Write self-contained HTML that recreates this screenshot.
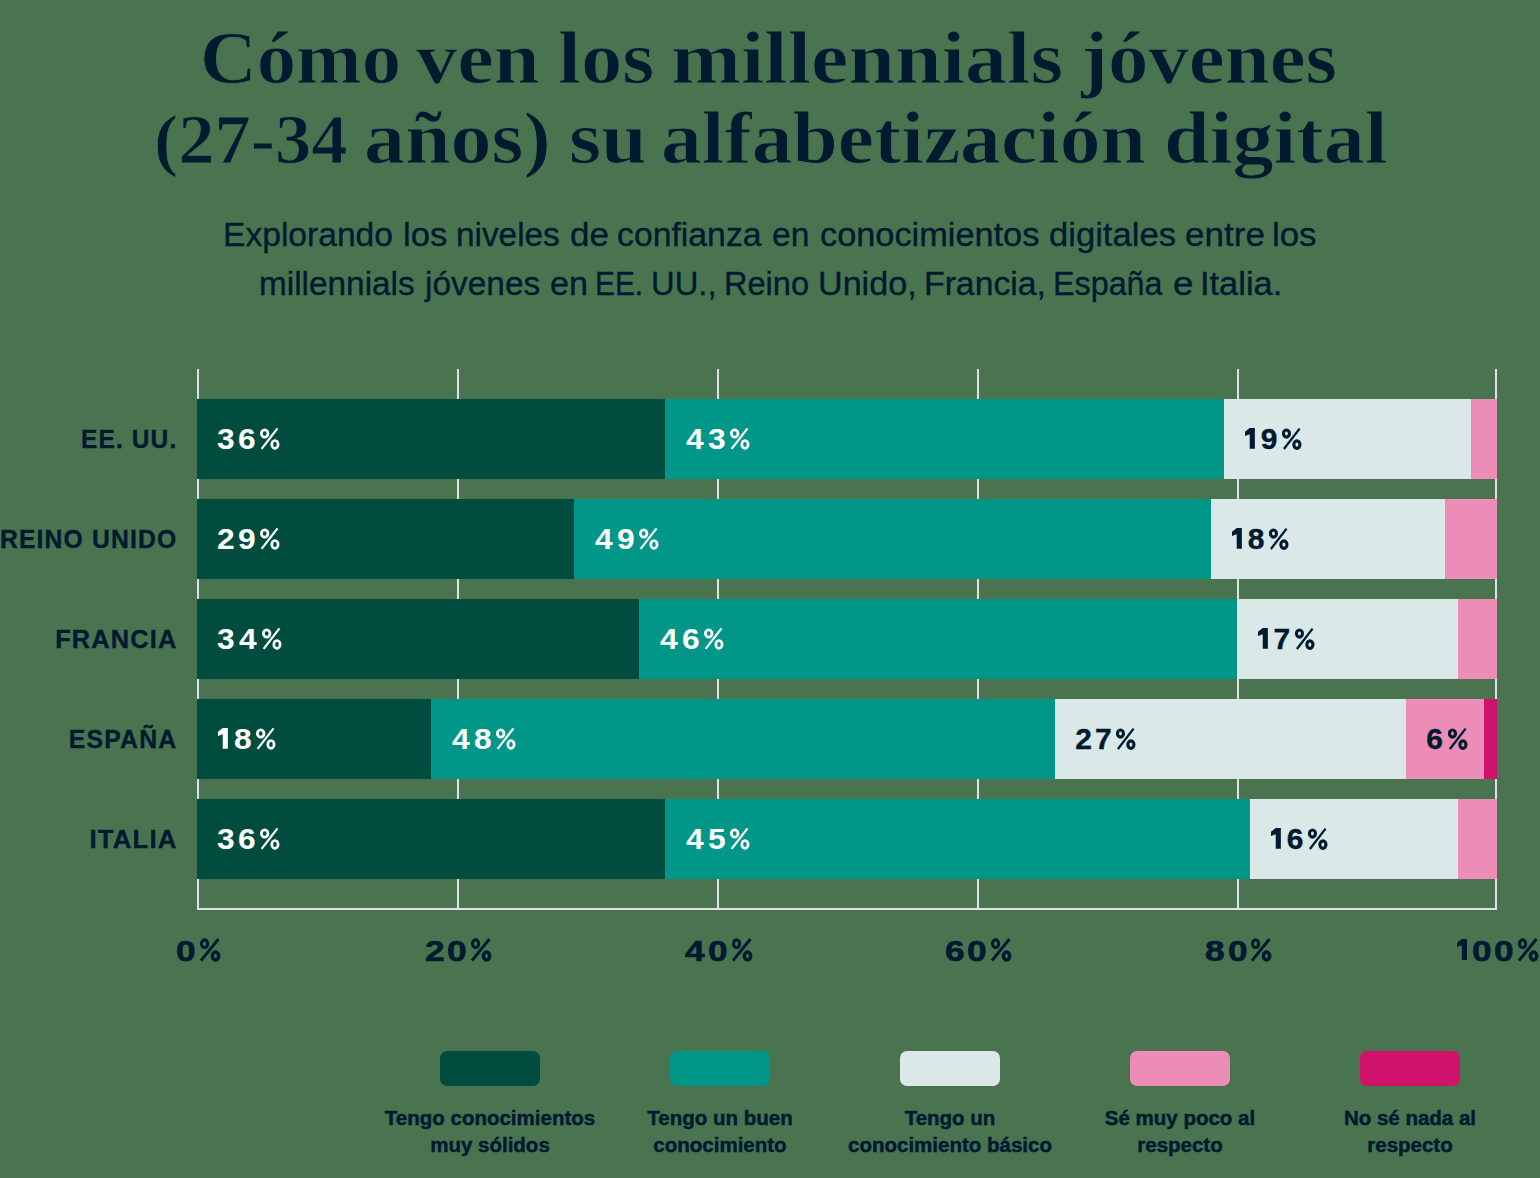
<!DOCTYPE html><html><head><meta charset="utf-8"><style>
html,body{margin:0;padding:0;}
body{width:1540px;height:1178px;background:#4a7350;position:relative;overflow:hidden;font-family:"Liberation Sans",sans-serif;color:#001a2f;}
.a{position:absolute;white-space:nowrap;}
.t{font-family:"Liberation Serif",serif;font-weight:bold;font-size:75px;line-height:80px;left:0;width:1540px;text-align:center;}
.tw{font-family:"Liberation Serif",serif;font-weight:bold;font-size:75px;line-height:80px;transform-origin:0 0;-webkit-text-stroke:1.0px #4a7350;}
.s{font-size:34px;line-height:40px;left:0;width:1540px;text-align:center;}
.sw2{font-size:34px;line-height:40px;transform-origin:0 0;-webkit-text-stroke:0.35px #001a2f;}
.lab{font-weight:bold;font-size:25px;line-height:30px;right:1362.5px;text-align:right;transform-origin:100% 0;letter-spacing:1.15px;-webkit-text-stroke:0.35px #001a2f;}
.seg{position:absolute;height:80px;}
.dg{position:absolute;font-weight:bold;transform-origin:0 0;white-space:nowrap;}
.g{position:absolute;overflow:visible;}
.gl{position:absolute;background:#dde0e5;width:2px;}
.ax{position:absolute;font-weight:bold;font-size:31.5px;line-height:34px;letter-spacing:1.5px;width:200px;text-align:center;}
.sw{position:absolute;width:100px;height:35px;border-radius:7px;top:1051px;}
.lg{position:absolute;font-weight:bold;-webkit-text-stroke:0.45px #001a2f;font-size:20.5px;line-height:26.5px;width:300px;text-align:center;top:1105px;}
</style></head><body>

<div class="a tw" style="top:18px;left:199.8px;transform:scaleX(1.0486);">Cómo</div>
<div class="a tw" style="top:18px;left:416.0px;transform:scaleX(1.0991);">ven</div>
<div class="a tw" style="top:18px;left:557.9px;transform:scaleX(1.1000);">los</div>
<div class="a tw" style="top:18px;left:670.8px;transform:scaleX(1.1202);">millennials</div>
<div class="a tw" style="top:18px;left:1081.1px;transform:scaleX(1.0781);">jóvenes</div>
<div class="a tw" style="top:99.5px;left:153.8px;transform:scaleX(1.0522);font-size:69px;">(27-34</div>
<div class="a tw" style="top:97.5px;left:363.8px;transform:scaleX(1.0934);">años)</div>
<div class="a tw" style="top:97.5px;left:568.8px;transform:scaleX(1.1000);">su</div>
<div class="a tw" style="top:97.5px;left:661.3px;transform:scaleX(1.0880);">alfabetización</div>
<div class="a tw" style="top:97.5px;left:1163.7px;transform:scaleX(1.0950);">digital</div>
<div class="a sw2" style="top:214px;left:223.0px;transform:scaleX(0.9881)">Explorando</div>
<div class="a sw2" style="top:214px;left:403.0px;transform:scaleX(1.0175)">los</div>
<div class="a sw2" style="top:214px;left:456.0px;transform:scaleX(0.9806)">niveles</div>
<div class="a sw2" style="top:214px;left:570.0px;transform:scaleX(1.0286)">de</div>
<div class="a sw2" style="top:214px;left:617.0px;transform:scaleX(0.9931)">confianza</div>
<div class="a sw2" style="top:214px;left:772.4px;transform:scaleX(0.9886)">en</div>
<div class="a sw2" style="top:214px;left:820.0px;transform:scaleX(1.0093)">conocimientos</div>
<div class="a sw2" style="top:214px;left:1048.5px;transform:scaleX(1.0179)">digitales</div>
<div class="a sw2" style="top:214px;left:1184.5px;transform:scaleX(1.0307)">entre</div>
<div class="a sw2" style="top:214px;left:1272.4px;transform:scaleX(1.0225)">los</div>
<div class="a sw2" style="top:263px;left:259.0px;transform:scaleX(0.9808)">millennials</div>
<div class="a sw2" style="top:263px;left:425.0px;transform:scaleX(0.9829)">jóvenes</div>
<div class="a sw2" style="top:263px;left:549.5px;transform:scaleX(1.0029)">en</div>
<div class="a sw2" style="top:263px;left:595.0px;transform:scaleX(0.8776)">EE.</div>
<div class="a sw2" style="top:263px;left:650.8px;transform:scaleX(0.9629)">UU.,</div>
<div class="a sw2" style="top:263px;left:724.1px;transform:scaleX(0.9576)">Reino</div>
<div class="a sw2" style="top:263px;left:817.7px;transform:scaleX(1.0033)">Unido,</div>
<div class="a sw2" style="top:263px;left:924.0px;transform:scaleX(0.9932)">Francia,</div>
<div class="a sw2" style="top:263px;left:1052.8px;transform:scaleX(0.9500)">España</div>
<div class="a sw2" style="top:263px;left:1172.9px;transform:scaleX(1.0812)">e</div>
<div class="a sw2" style="top:263px;left:1200.0px;transform:scaleX(1.0120)">Italia.</div>
<div class="gl" style="left:197px;top:369px;height:541px"></div>
<div class="gl" style="left:457px;top:369px;height:541px"></div>
<div class="gl" style="left:717px;top:369px;height:541px"></div>
<div class="gl" style="left:977px;top:369px;height:541px"></div>
<div class="gl" style="left:1237px;top:369px;height:541px"></div>
<div class="gl" style="left:1495px;top:369px;height:541px"></div>
<div class="gl" style="left:197px;top:908px;width:1300px;height:2px"></div>
<div class="a lab" style="top:424px;transform:scaleX(0.979)">EE. UU.</div>
<div class="seg" style="left:197px;top:399px;width:468px;background:#004d40"></div>
<div class="dg" style="left:217.41px;top:420.65px;font-size:30.0px;line-height:36.00px;transform:scaleX(1.06);color:#fff;">3</div>
<div class="dg" style="left:238.33px;top:420.65px;font-size:30.0px;line-height:36.00px;transform:scaleX(1.06);color:#fff;">6</div>
<svg class="g" style="left:260.36px;top:427.80px" width="20.00" height="23.00" viewBox="0 0 20 23"><ellipse cx="4.7" cy="5.5" rx="3.3" ry="3.65" fill="none" stroke="#fff" stroke-width="2.7"/><ellipse cx="14.95" cy="16.4" rx="3.15" ry="3.9" fill="none" stroke="#fff" stroke-width="2.7"/><line x1="17.5" y1="0.3" x2="1.6" y2="20.8" stroke="#fff" stroke-width="2.2"/></svg>
<div class="seg" style="left:665px;top:399px;width:559px;background:#009688"></div>
<div class="dg" style="left:685.72px;top:420.65px;font-size:30.0px;line-height:36.00px;transform:scaleX(1.06);color:#fff;">4</div>
<div class="dg" style="left:707.92px;top:420.65px;font-size:30.0px;line-height:36.00px;transform:scaleX(1.06);color:#fff;">3</div>
<svg class="g" style="left:729.95px;top:427.80px" width="20.00" height="23.00" viewBox="0 0 20 23"><ellipse cx="4.7" cy="5.5" rx="3.3" ry="3.65" fill="none" stroke="#fff" stroke-width="2.7"/><ellipse cx="14.95" cy="16.4" rx="3.15" ry="3.9" fill="none" stroke="#fff" stroke-width="2.7"/><line x1="17.5" y1="0.3" x2="1.6" y2="20.8" stroke="#fff" stroke-width="2.2"/></svg>
<div class="seg" style="left:1224px;top:399px;width:247px;background:#dae8e8"></div>
<svg class="g" style="left:1245.20px;top:428.30px" width="9.86" height="20.70" viewBox="0 0 10 21"><path d="M4.8 0H10V21H4.8V6.3L0 8.1V3.8Z" fill="#001a2f"/></svg>
<div class="dg" style="left:1260.71px;top:420.65px;font-size:30.0px;line-height:36.00px;transform:scaleX(1.0);color:#001a2f;-webkit-text-stroke:0.35px #001a2f;">9</div>
<svg class="g" style="left:1282.11px;top:427.70px" width="20.00" height="23.00" viewBox="0 0 20 23"><ellipse cx="4.45" cy="5.6" rx="3.0" ry="3.55" fill="none" stroke="#001a2f" stroke-width="3.1"/><ellipse cx="14.9" cy="16.6" rx="3.05" ry="3.75" fill="none" stroke="#001a2f" stroke-width="3.1"/><line x1="17.6" y1="0.6" x2="1.9" y2="21.0" stroke="#001a2f" stroke-width="2.3"/></svg>
<div class="seg" style="left:1471px;top:399px;width:26px;background:#ec8db8"></div>
<div class="a lab" style="top:524px;transform:scaleX(0.989)">REINO UNIDO</div>
<div class="seg" style="left:197px;top:499px;width:377px;background:#004d40"></div>
<div class="dg" style="left:217.09px;top:520.65px;font-size:30.0px;line-height:36.00px;transform:scaleX(1.06);color:#fff;">2</div>
<div class="dg" style="left:237.85px;top:520.65px;font-size:30.0px;line-height:36.00px;transform:scaleX(1.06);color:#fff;">9</div>
<svg class="g" style="left:259.89px;top:527.80px" width="20.00" height="23.00" viewBox="0 0 20 23"><ellipse cx="4.7" cy="5.5" rx="3.3" ry="3.65" fill="none" stroke="#fff" stroke-width="2.7"/><ellipse cx="14.95" cy="16.4" rx="3.15" ry="3.9" fill="none" stroke="#fff" stroke-width="2.7"/><line x1="17.5" y1="0.3" x2="1.6" y2="20.8" stroke="#fff" stroke-width="2.2"/></svg>
<div class="seg" style="left:574px;top:499px;width:637px;background:#009688"></div>
<div class="dg" style="left:594.72px;top:520.65px;font-size:30.0px;line-height:36.00px;transform:scaleX(1.06);color:#fff;">4</div>
<div class="dg" style="left:616.60px;top:520.65px;font-size:30.0px;line-height:36.00px;transform:scaleX(1.06);color:#fff;">9</div>
<svg class="g" style="left:638.64px;top:527.80px" width="20.00" height="23.00" viewBox="0 0 20 23"><ellipse cx="4.7" cy="5.5" rx="3.3" ry="3.65" fill="none" stroke="#fff" stroke-width="2.7"/><ellipse cx="14.95" cy="16.4" rx="3.15" ry="3.9" fill="none" stroke="#fff" stroke-width="2.7"/><line x1="17.5" y1="0.3" x2="1.6" y2="20.8" stroke="#fff" stroke-width="2.2"/></svg>
<div class="seg" style="left:1211px;top:499px;width:234px;background:#dae8e8"></div>
<svg class="g" style="left:1232.20px;top:528.30px" width="9.86" height="20.70" viewBox="0 0 10 21"><path d="M4.8 0H10V21H4.8V6.3L0 8.1V3.8Z" fill="#001a2f"/></svg>
<div class="dg" style="left:1247.86px;top:520.65px;font-size:30.0px;line-height:36.00px;transform:scaleX(1.0);color:#001a2f;-webkit-text-stroke:0.35px #001a2f;">8</div>
<svg class="g" style="left:1269.41px;top:527.70px" width="20.00" height="23.00" viewBox="0 0 20 23"><ellipse cx="4.45" cy="5.6" rx="3.0" ry="3.55" fill="none" stroke="#001a2f" stroke-width="3.1"/><ellipse cx="14.9" cy="16.6" rx="3.05" ry="3.75" fill="none" stroke="#001a2f" stroke-width="3.1"/><line x1="17.6" y1="0.6" x2="1.9" y2="21.0" stroke="#001a2f" stroke-width="2.3"/></svg>
<div class="seg" style="left:1445px;top:499px;width:52px;background:#ec8db8"></div>
<div class="a lab" style="top:624px;transform:scaleX(1.015)">FRANCIA</div>
<div class="seg" style="left:197px;top:599px;width:442px;background:#004d40"></div>
<div class="dg" style="left:217.41px;top:620.65px;font-size:30.0px;line-height:36.00px;transform:scaleX(1.06);color:#fff;">3</div>
<div class="dg" style="left:238.96px;top:620.65px;font-size:30.0px;line-height:36.00px;transform:scaleX(1.06);color:#fff;">4</div>
<svg class="g" style="left:261.95px;top:627.80px" width="20.00" height="23.00" viewBox="0 0 20 23"><ellipse cx="4.7" cy="5.5" rx="3.3" ry="3.65" fill="none" stroke="#fff" stroke-width="2.7"/><ellipse cx="14.95" cy="16.4" rx="3.15" ry="3.9" fill="none" stroke="#fff" stroke-width="2.7"/><line x1="17.5" y1="0.3" x2="1.6" y2="20.8" stroke="#fff" stroke-width="2.2"/></svg>
<div class="seg" style="left:639px;top:599px;width:598px;background:#009688"></div>
<div class="dg" style="left:659.72px;top:620.65px;font-size:30.0px;line-height:36.00px;transform:scaleX(1.06);color:#fff;">4</div>
<div class="dg" style="left:681.60px;top:620.65px;font-size:30.0px;line-height:36.00px;transform:scaleX(1.06);color:#fff;">6</div>
<svg class="g" style="left:703.64px;top:627.80px" width="20.00" height="23.00" viewBox="0 0 20 23"><ellipse cx="4.7" cy="5.5" rx="3.3" ry="3.65" fill="none" stroke="#fff" stroke-width="2.7"/><ellipse cx="14.95" cy="16.4" rx="3.15" ry="3.9" fill="none" stroke="#fff" stroke-width="2.7"/><line x1="17.5" y1="0.3" x2="1.6" y2="20.8" stroke="#fff" stroke-width="2.2"/></svg>
<div class="seg" style="left:1237px;top:599px;width:221px;background:#dae8e8"></div>
<svg class="g" style="left:1258.20px;top:628.30px" width="9.86" height="20.70" viewBox="0 0 10 21"><path d="M4.8 0H10V21H4.8V6.3L0 8.1V3.8Z" fill="#001a2f"/></svg>
<div class="dg" style="left:1273.41px;top:620.65px;font-size:30.0px;line-height:36.00px;transform:scaleX(1.0);color:#001a2f;-webkit-text-stroke:0.35px #001a2f;">7</div>
<svg class="g" style="left:1294.51px;top:627.70px" width="20.00" height="23.00" viewBox="0 0 20 23"><ellipse cx="4.45" cy="5.6" rx="3.0" ry="3.55" fill="none" stroke="#001a2f" stroke-width="3.1"/><ellipse cx="14.9" cy="16.6" rx="3.05" ry="3.75" fill="none" stroke="#001a2f" stroke-width="3.1"/><line x1="17.6" y1="0.6" x2="1.9" y2="21.0" stroke="#001a2f" stroke-width="2.3"/></svg>
<div class="seg" style="left:1458px;top:599px;width:39px;background:#ec8db8"></div>
<div class="a lab" style="top:724px;transform:scaleX(0.992)">ESPAÑA</div>
<div class="seg" style="left:197px;top:699px;width:234px;background:#004d40"></div>
<svg class="g" style="left:218.20px;top:728.30px" width="9.86" height="20.70" viewBox="0 0 10 21"><path d="M4.8 0H10V21H4.8V6.3L0 8.1V3.8Z" fill="#fff"/></svg>
<div class="dg" style="left:233.50px;top:720.65px;font-size:30.0px;line-height:36.00px;transform:scaleX(1.06);color:#fff;">8</div>
<svg class="g" style="left:255.70px;top:727.80px" width="20.00" height="23.00" viewBox="0 0 20 23"><ellipse cx="4.7" cy="5.5" rx="3.3" ry="3.65" fill="none" stroke="#fff" stroke-width="2.7"/><ellipse cx="14.95" cy="16.4" rx="3.15" ry="3.9" fill="none" stroke="#fff" stroke-width="2.7"/><line x1="17.5" y1="0.3" x2="1.6" y2="20.8" stroke="#fff" stroke-width="2.2"/></svg>
<div class="seg" style="left:431px;top:699px;width:624px;background:#009688"></div>
<div class="dg" style="left:451.72px;top:720.65px;font-size:30.0px;line-height:36.00px;transform:scaleX(1.06);color:#fff;">4</div>
<div class="dg" style="left:473.76px;top:720.65px;font-size:30.0px;line-height:36.00px;transform:scaleX(1.06);color:#fff;">8</div>
<svg class="g" style="left:495.95px;top:727.80px" width="20.00" height="23.00" viewBox="0 0 20 23"><ellipse cx="4.7" cy="5.5" rx="3.3" ry="3.65" fill="none" stroke="#fff" stroke-width="2.7"/><ellipse cx="14.95" cy="16.4" rx="3.15" ry="3.9" fill="none" stroke="#fff" stroke-width="2.7"/><line x1="17.5" y1="0.3" x2="1.6" y2="20.8" stroke="#fff" stroke-width="2.2"/></svg>
<div class="seg" style="left:1055px;top:699px;width:351px;background:#dae8e8"></div>
<div class="dg" style="left:1075.15px;top:720.65px;font-size:30.0px;line-height:36.00px;transform:scaleX(1.0);color:#001a2f;-webkit-text-stroke:0.35px #001a2f;">2</div>
<div class="dg" style="left:1095.05px;top:720.65px;font-size:30.0px;line-height:36.00px;transform:scaleX(1.0);color:#001a2f;-webkit-text-stroke:0.35px #001a2f;">7</div>
<svg class="g" style="left:1116.15px;top:727.70px" width="20.00" height="23.00" viewBox="0 0 20 23"><ellipse cx="4.45" cy="5.6" rx="3.0" ry="3.55" fill="none" stroke="#001a2f" stroke-width="3.1"/><ellipse cx="14.9" cy="16.6" rx="3.05" ry="3.75" fill="none" stroke="#001a2f" stroke-width="3.1"/><line x1="17.6" y1="0.6" x2="1.9" y2="21.0" stroke="#001a2f" stroke-width="2.3"/></svg>
<div class="seg" style="left:1406px;top:699px;width:78px;background:#ec8db8"></div>
<div class="dg" style="left:1426.15px;top:720.65px;font-size:30.0px;line-height:36.00px;transform:scaleX(1.0);color:#001a2f;-webkit-text-stroke:0.35px #001a2f;">6</div>
<svg class="g" style="left:1447.55px;top:727.70px" width="20.00" height="23.00" viewBox="0 0 20 23"><ellipse cx="4.45" cy="5.6" rx="3.0" ry="3.55" fill="none" stroke="#001a2f" stroke-width="3.1"/><ellipse cx="14.9" cy="16.6" rx="3.05" ry="3.75" fill="none" stroke="#001a2f" stroke-width="3.1"/><line x1="17.6" y1="0.6" x2="1.9" y2="21.0" stroke="#001a2f" stroke-width="2.3"/></svg>
<div class="seg" style="left:1484px;top:699px;width:13px;background:#d0136a"></div>
<div class="a lab" style="top:824px;transform:scaleX(1.03)">ITALIA</div>
<div class="seg" style="left:197px;top:799px;width:468px;background:#004d40"></div>
<div class="dg" style="left:217.41px;top:820.65px;font-size:30.0px;line-height:36.00px;transform:scaleX(1.06);color:#fff;">3</div>
<div class="dg" style="left:238.33px;top:820.65px;font-size:30.0px;line-height:36.00px;transform:scaleX(1.06);color:#fff;">6</div>
<svg class="g" style="left:260.36px;top:827.80px" width="20.00" height="23.00" viewBox="0 0 20 23"><ellipse cx="4.7" cy="5.5" rx="3.3" ry="3.65" fill="none" stroke="#fff" stroke-width="2.7"/><ellipse cx="14.95" cy="16.4" rx="3.15" ry="3.9" fill="none" stroke="#fff" stroke-width="2.7"/><line x1="17.5" y1="0.3" x2="1.6" y2="20.8" stroke="#fff" stroke-width="2.2"/></svg>
<div class="seg" style="left:665px;top:799px;width:585px;background:#009688"></div>
<div class="dg" style="left:685.72px;top:820.65px;font-size:30.0px;line-height:36.00px;transform:scaleX(1.06);color:#fff;">4</div>
<div class="dg" style="left:707.76px;top:820.65px;font-size:30.0px;line-height:36.00px;transform:scaleX(1.06);color:#fff;">5</div>
<svg class="g" style="left:730.11px;top:827.80px" width="20.00" height="23.00" viewBox="0 0 20 23"><ellipse cx="4.7" cy="5.5" rx="3.3" ry="3.65" fill="none" stroke="#fff" stroke-width="2.7"/><ellipse cx="14.95" cy="16.4" rx="3.15" ry="3.9" fill="none" stroke="#fff" stroke-width="2.7"/><line x1="17.5" y1="0.3" x2="1.6" y2="20.8" stroke="#fff" stroke-width="2.2"/></svg>
<div class="seg" style="left:1250px;top:799px;width:208px;background:#dae8e8"></div>
<svg class="g" style="left:1271.20px;top:828.30px" width="9.86" height="20.70" viewBox="0 0 10 21"><path d="M4.8 0H10V21H4.8V6.3L0 8.1V3.8Z" fill="#001a2f"/></svg>
<div class="dg" style="left:1286.71px;top:820.65px;font-size:30.0px;line-height:36.00px;transform:scaleX(1.0);color:#001a2f;-webkit-text-stroke:0.35px #001a2f;">6</div>
<svg class="g" style="left:1308.11px;top:827.70px" width="20.00" height="23.00" viewBox="0 0 20 23"><ellipse cx="4.45" cy="5.6" rx="3.0" ry="3.55" fill="none" stroke="#001a2f" stroke-width="3.1"/><ellipse cx="14.9" cy="16.6" rx="3.05" ry="3.75" fill="none" stroke="#001a2f" stroke-width="3.1"/><line x1="17.6" y1="0.6" x2="1.9" y2="21.0" stroke="#001a2f" stroke-width="2.3"/></svg>
<div class="seg" style="left:1458px;top:799px;width:39px;background:#ec8db8"></div>
<div class="dg" style="left:176.11px;top:931.55px;font-size:30.4px;line-height:36.48px;transform:scaleX(1.16);color:#001a2f;-webkit-text-stroke:0.6px #001a2f;">0</div>
<svg class="g" style="left:199.88px;top:937.70px" width="20.80" height="23.92" viewBox="0 0 20 23"><ellipse cx="4.4" cy="5.5" rx="2.95" ry="3.65" fill="none" stroke="#001a2f" stroke-width="3"/><ellipse cx="14.95" cy="17.35" rx="3" ry="3.8" fill="none" stroke="#001a2f" stroke-width="3.4"/><line x1="17.8" y1="1" x2="0.9" y2="21.7" stroke="#001a2f" stroke-width="2.8"/></svg>
<div class="dg" style="left:425.03px;top:931.55px;font-size:30.4px;line-height:36.48px;transform:scaleX(1.16);color:#001a2f;-webkit-text-stroke:0.6px #001a2f;">2</div>
<div class="dg" style="left:447.38px;top:931.55px;font-size:30.4px;line-height:36.48px;transform:scaleX(1.16);color:#001a2f;-webkit-text-stroke:0.6px #001a2f;">0</div>
<svg class="g" style="left:471.14px;top:937.70px" width="20.80" height="23.92" viewBox="0 0 20 23"><ellipse cx="4.4" cy="5.5" rx="2.95" ry="3.65" fill="none" stroke="#001a2f" stroke-width="3"/><ellipse cx="14.95" cy="17.35" rx="3" ry="3.8" fill="none" stroke="#001a2f" stroke-width="3.4"/><line x1="17.8" y1="1" x2="0.9" y2="21.7" stroke="#001a2f" stroke-width="2.8"/></svg>
<div class="dg" style="left:684.76px;top:931.55px;font-size:30.4px;line-height:36.48px;transform:scaleX(1.16);color:#001a2f;-webkit-text-stroke:0.6px #001a2f;">4</div>
<div class="dg" style="left:708.35px;top:931.55px;font-size:30.4px;line-height:36.48px;transform:scaleX(1.16);color:#001a2f;-webkit-text-stroke:0.6px #001a2f;">0</div>
<svg class="g" style="left:732.11px;top:937.70px" width="20.80" height="23.92" viewBox="0 0 20 23"><ellipse cx="4.4" cy="5.5" rx="2.95" ry="3.65" fill="none" stroke="#001a2f" stroke-width="3"/><ellipse cx="14.95" cy="17.35" rx="3" ry="3.8" fill="none" stroke="#001a2f" stroke-width="3.4"/><line x1="17.8" y1="1" x2="0.9" y2="21.7" stroke="#001a2f" stroke-width="2.8"/></svg>
<div class="dg" style="left:944.94px;top:931.55px;font-size:30.4px;line-height:36.48px;transform:scaleX(1.16);color:#001a2f;-webkit-text-stroke:0.6px #001a2f;">6</div>
<div class="dg" style="left:967.47px;top:931.55px;font-size:30.4px;line-height:36.48px;transform:scaleX(1.16);color:#001a2f;-webkit-text-stroke:0.6px #001a2f;">0</div>
<svg class="g" style="left:991.23px;top:937.70px" width="20.80" height="23.92" viewBox="0 0 20 23"><ellipse cx="4.4" cy="5.5" rx="2.95" ry="3.65" fill="none" stroke="#001a2f" stroke-width="3"/><ellipse cx="14.95" cy="17.35" rx="3" ry="3.8" fill="none" stroke="#001a2f" stroke-width="3.4"/><line x1="17.8" y1="1" x2="0.9" y2="21.7" stroke="#001a2f" stroke-width="2.8"/></svg>
<div class="dg" style="left:1204.94px;top:931.55px;font-size:30.4px;line-height:36.48px;transform:scaleX(1.16);color:#001a2f;-webkit-text-stroke:0.6px #001a2f;">8</div>
<div class="dg" style="left:1227.64px;top:931.55px;font-size:30.4px;line-height:36.48px;transform:scaleX(1.16);color:#001a2f;-webkit-text-stroke:0.6px #001a2f;">0</div>
<svg class="g" style="left:1251.40px;top:937.70px" width="20.80" height="23.92" viewBox="0 0 20 23"><ellipse cx="4.4" cy="5.5" rx="2.95" ry="3.65" fill="none" stroke="#001a2f" stroke-width="3"/><ellipse cx="14.95" cy="17.35" rx="3" ry="3.8" fill="none" stroke="#001a2f" stroke-width="3.4"/><line x1="17.8" y1="1" x2="0.9" y2="21.7" stroke="#001a2f" stroke-width="2.8"/></svg>
<svg class="g" style="left:1456.62px;top:939.30px" width="9.99" height="20.98" viewBox="0 0 10 21"><path d="M4.8 0H10V21H4.8V6.3L0 8.1V3.8Z" fill="#001a2f"/></svg>
<div class="dg" style="left:1471.57px;top:931.55px;font-size:30.4px;line-height:36.48px;transform:scaleX(1.16);color:#001a2f;-webkit-text-stroke:0.6px #001a2f;">0</div>
<div class="dg" style="left:1493.92px;top:931.55px;font-size:30.4px;line-height:36.48px;transform:scaleX(1.16);color:#001a2f;-webkit-text-stroke:0.6px #001a2f;">0</div>
<svg class="g" style="left:1517.68px;top:937.70px" width="20.80" height="23.92" viewBox="0 0 20 23"><ellipse cx="4.4" cy="5.5" rx="2.95" ry="3.65" fill="none" stroke="#001a2f" stroke-width="3"/><ellipse cx="14.95" cy="17.35" rx="3" ry="3.8" fill="none" stroke="#001a2f" stroke-width="3.4"/><line x1="17.8" y1="1" x2="0.9" y2="21.7" stroke="#001a2f" stroke-width="2.8"/></svg>
<div class="sw" style="left:440px;background:#004d40"></div>
<div class="lg" style="left:340px">Tengo conocimientos<br>muy sólidos</div>
<div class="sw" style="left:670px;background:#009688"></div>
<div class="lg" style="left:570px">Tengo un buen<br>conocimiento</div>
<div class="sw" style="left:900px;background:#dae8e8"></div>
<div class="lg" style="left:800px">Tengo un<br>conocimiento básico</div>
<div class="sw" style="left:1130px;background:#ec8db8"></div>
<div class="lg" style="left:1030px">Sé muy poco al<br>respecto</div>
<div class="sw" style="left:1360px;background:#d0136a"></div>
<div class="lg" style="left:1260px">No sé nada al<br>respecto</div>
</body></html>
